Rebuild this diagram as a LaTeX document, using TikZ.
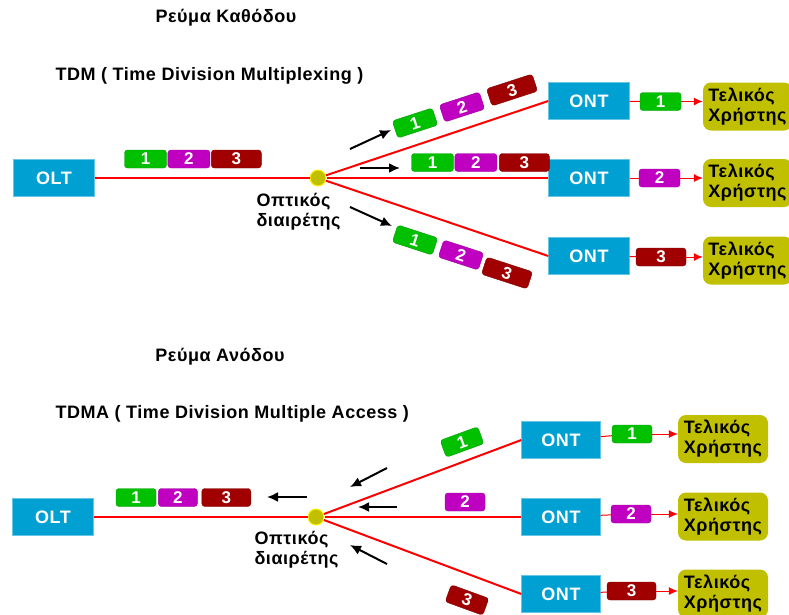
\documentclass[tikz,border=0pt]{standalone}
\usepackage{fontspec}
\setmainfont{Liberation Sans}[LetterSpace=3]
\usetikzlibrary{positioning,arrows.meta}

\definecolor{ontblue}{RGB}{0,160,210}
\definecolor{pktgreen}{RGB}{0,192,0}
\definecolor{pktpurple}{RGB}{192,0,192}
\definecolor{pktred}{RGB}{160,0,0}
\definecolor{userolive}{RGB}{192,192,0}

\begin{document}
\begin{tikzpicture}[x=1pt, y=-1pt,
    every node/.style={font=\fontsize{18}{20}\selectfont\bfseries},
    unit/.style={draw=ontblue!60!white, fill=ontblue, text=white, minimum width=81pt, minimum height=37pt},
    user/.style={fill=userolive, rounded corners=8pt, minimum width=90pt, minimum height=48pt, align=left, inner sep=2pt},
    pkt/.style={fill=#1, draw=#1!80!black, rounded corners=3pt, text=white, minimum width=42pt, minimum height=18pt, inner sep=0pt, font=\fontsize{17}{18}\selectfont\bfseries},
    fiber/.style={red, line width=2pt},
    tail/.style={red, line width=1pt, -{Latex[length=9pt, width=8pt]}},
    link/.style={red, line width=1pt},
    flow/.style={-{Latex[length=11pt, width=10pt]}, line width=2pt},
    splitter/.style={circle, draw=yellow, line width=1pt, fill=userolive, minimum size=16pt, inner sep=0pt}]
    \useasboundingbox (0,0) rectangle (789,614);

    % downstream
    \node (down) at (226,18) {Ρεύμα Καθόδου};
    \node[anchor=west] (tdm) at (52,76) {TDM ( Time Division Multiplexing )};
    \node[unit] (olt1) at (54,178) {OLT};
    \node[splitter] (split1) at (318,178) {};
    \node[align=left, anchor=north west] (split1lab) at (253,190) {Οπτικός\\διαιρέτης};
    \node[unit] (ont1a) at (589,101) {ONT};
    \node[unit] (ont1b) at (589,178) {ONT};
    \node[unit] (ont1c) at (589,256) {ONT};
    \node[user, minimum width=89pt] (user1a) at (747.5,106.5) {Τελικός\\Χρήστης};
    \node[user, minimum width=89pt] (user1b) at (747.5,183) {Τελικός\\Χρήστης};
    \node[user, minimum width=89pt] (user1c) at (747.5,260.5) {Τελικός\\Χρήστης};

    \draw[fiber] (olt1) -- (split1);
    \draw[fiber] (split1) -- (ont1a.west);
    \draw[fiber] (split1) -- (ont1b);
    \draw[fiber] (split1) -- (ont1c.west);

    \node[pkt=pktgreen] (d1) at (145.5,159) {1};
    \node[pkt=pktpurple, right=1pt of d1] (d2) {2};
    \node[pkt=pktred, minimum width=50pt, right=1pt of d2] (d3) {3};

    \node[pkt=pktgreen, rotate=18] (da1) at (415,123) {1};
    \node[pkt=pktpurple, rotate=18] (da2) at (462,107) {2};
    \node[pkt=pktred, rotate=18, minimum width=48pt] (da3) at (512,90) {3};
    \node[pkt=pktgreen] (db1) at (432.5,162.5) {1};
    \node[pkt=pktpurple, right=1pt of db1] (db2) {2};
    \node[pkt=pktred, minimum width=50pt, right=2pt of db2] (db3) {3};
    \node[pkt=pktgreen, rotate=-18] (dc1) at (415,240) {1};
    \node[pkt=pktpurple, rotate=-18] (dc2) at (461,255) {2};
    \node[pkt=pktred, rotate=-18, minimum width=48pt] (dc3) at (507,273) {3};

    \coordinate (fa0) at (350,149); \coordinate (fa1) at (391,130);
    \coordinate (fb0) at (360,168); \coordinate (fb1) at (400,168);
    \coordinate (fc0) at (350,207); \coordinate (fc1) at (392,226);
    \draw[flow] (fa0) -- (fa1);
    \draw[flow] (fb0) -- (fb1);
    \draw[flow] (fc0) -- (fc1);

    \node[pkt=pktgreen, minimum width=41pt] (r1a) at (660.5,101.5) {1};
    \node[pkt=pktpurple, minimum width=41pt] (r1b) at (659.5,178) {2};
    \node[pkt=pktred, minimum width=50pt] (r1c) at (661,257) {3};
    \draw[link] (ont1a) -- (r1a);
    \draw[link] (ont1b) -- (r1b);
    \draw[link] (ont1c) -- (r1c);
    \draw[tail] (r1a) -- (r1a -| user1a.west);
    \draw[tail] (r1b) -- (r1b -| user1b.west);
    \draw[tail] (r1c) -- (r1c -| user1c.west);

    % upstream
    \node (up) at (220,357) {Ρεύμα Ανόδου};
    \node[anchor=west] (tdma) at (52,414) {TDMA ( Time Division Multiple Access )};
    \node[unit] (olt2) at (53,517) {OLT};
    \node[splitter] (split2) at (316,517) {};
    \node[align=left, anchor=north west] (split2lab) at (251,528) {Οπτικός\\διαιρέτης};
    \node[unit, minimum width=79pt] (ont2a) at (561,440) {ONT};
    \node[unit, minimum width=79pt] (ont2b) at (561,517) {ONT};
    \node[unit, minimum width=79pt] (ont2c) at (561,594) {ONT};
    \node[user] (user2a) at (723,439) {Τελικός\\Χρήστης};
    \node[user] (user2b) at (723,516.5) {Τελικός\\Χρήστης};
    \node[user] (user2c) at (723,593.5) {Τελικός\\Χρήστης};

    \draw[fiber] (olt2) -- (split2);
    \draw[fiber] (split2) -- (ont2a.west);
    \draw[fiber] (split2) -- (ont2b);
    \draw[fiber] (split2) -- (ont2c.west);

    \node[pkt=pktgreen, minimum width=40pt] (u1) at (136,497.5) {1};
    \node[pkt=pktpurple, minimum width=39pt, right=2pt of u1] (u2) {2};
    \node[pkt=pktred, minimum width=49pt, right=4pt of u2] (u3) {3};

    \node[pkt=pktgreen, rotate=20, minimum width=40pt] (ua) at (462,442) {1};
    \node[pkt=pktpurple, minimum width=40pt] (ub) at (465,502) {2};
    \node[pkt=pktred, rotate=-20, minimum width=40pt] (uc) at (467,600) {3};

    \coordinate (ga0) at (387,468); \coordinate (ga1) at (350,487);
    \coordinate (gb0) at (397,507); \coordinate (gb1) at (358,507);
    \coordinate (gc0) at (387,564); \coordinate (gc1) at (350,545);
    \coordinate (gd0) at (307,497); \coordinate (gd1) at (267,497);
    \draw[flow] (ga0) -- (ga1);
    \draw[flow] (gb0) -- (gb1);
    \draw[flow] (gc0) -- (gc1);
    \draw[flow] (gd0) -- (gd1);

    \node[pkt=pktgreen, minimum width=40pt] (r2a) at (632,434) {1};
    \node[pkt=pktpurple, minimum width=40pt] (r2b) at (631,514) {2};
    \node[pkt=pktred, minimum width=49pt] (r2c) at (631.5,591) {3};
    \draw[link] (ont2a) -- (r2a);
    \draw[link] (ont2b) -- (r2b);
    \draw[link] (ont2c) -- (r2c);
    \draw[tail] (r2a) -- (r2a -| user2a.west);
    \draw[tail] (r2b) -- (r2b -| user2b.west);
    \draw[tail] (r2c) -- (r2c -| user2c.west);
\end{tikzpicture}
\end{document}
